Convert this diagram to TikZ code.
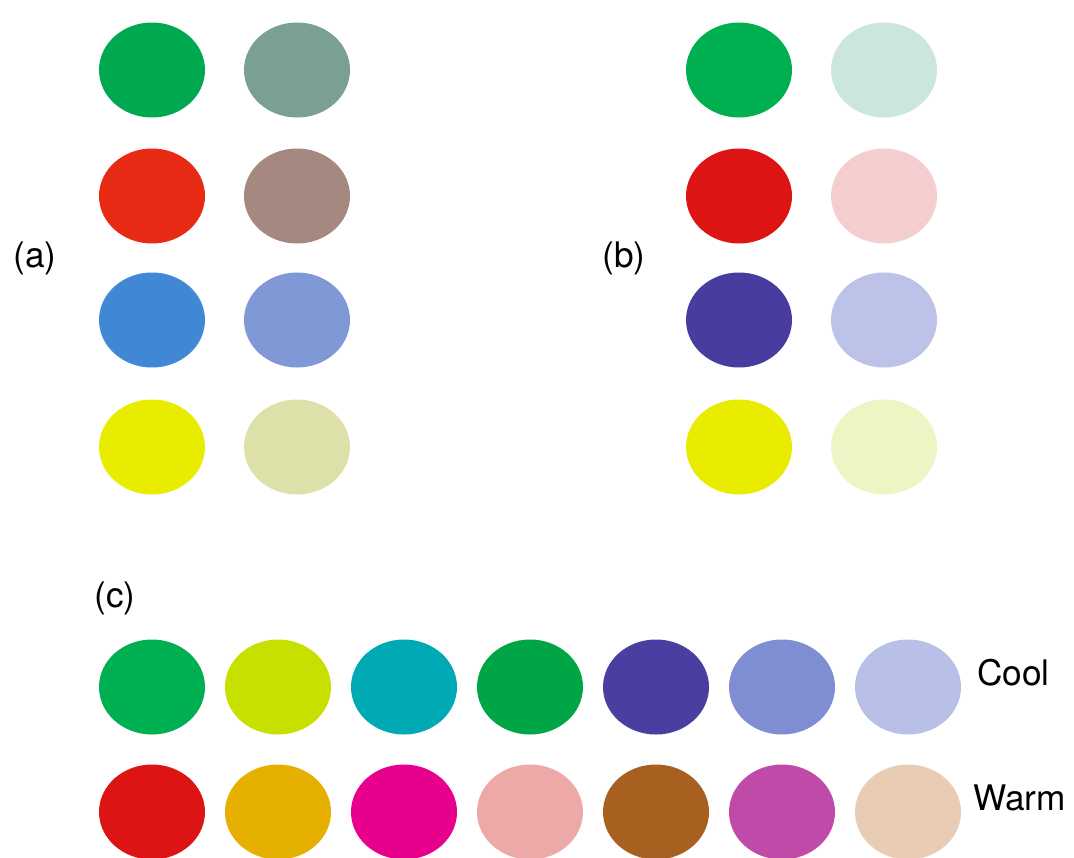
\documentclass[tikz,border=0pt]{standalone}
\usepackage{fontspec}
\setmainfont{TeX Gyre Heros}
\usetikzlibrary{shapes.geometric}

% (a) full and dulled
\definecolor{grnA}{HTML}{00A850}
\definecolor{redA}{HTML}{E62A14}
\definecolor{bluA}{HTML}{4088D6}
\definecolor{yelA}{HTML}{EAEC00}
\definecolor{grnAdull}{HTML}{7AA091}
\definecolor{redAdull}{HTML}{A58880}
\definecolor{bluAdull}{HTML}{8098D6}
\definecolor{yelAdull}{HTML}{DEE0AA}
% (b) full and tinted
\definecolor{grnB}{HTML}{00B050}
\definecolor{redB}{HTML}{DC1414}
\definecolor{bluB}{HTML}{483C9E}
\definecolor{yelB}{HTML}{EAEC00}
\definecolor{grnBtint}{HTML}{CBE6DA}
\definecolor{redBtint}{HTML}{F4CECE}
\definecolor{bluBtint}{HTML}{BCC2E8}
\definecolor{yelBtint}{HTML}{EEF5C4}
% (c) cool and warm
\definecolor{coolA}{HTML}{00B050}
\definecolor{coolB}{HTML}{C8E000}
\definecolor{coolC}{HTML}{00AAB4}
\definecolor{coolD}{HTML}{00A645}
\definecolor{coolE}{HTML}{4A3FA0}
\definecolor{coolF}{HTML}{7F8ED2}
\definecolor{coolG}{HTML}{B8C0E8}
\definecolor{warmA}{HTML}{DC1414}
\definecolor{warmB}{HTML}{E6B000}
\definecolor{warmC}{HTML}{E6008C}
\definecolor{warmD}{HTML}{EDA8A8}
\definecolor{warmE}{HTML}{A86020}
\definecolor{warmF}{HTML}{C04AA8}
\definecolor{warmG}{HTML}{E8CCB4}

\begin{document}
\begin{tikzpicture}[x=0.5pt,y=-0.5pt,font=\fontsize{17.6}{21}\selectfont,
  spot/.style={ellipse,minimum width=53pt,minimum height=47.5pt,inner sep=0pt},
  tag/.style={inner sep=0pt}]
  \useasboundingbox (0,0) rectangle (1074,857);

  % (a)
  \foreach \y/\r/\p/\q in {70/1/grnA/grnAdull,196/2/redA/redAdull,
      320/3/bluA/bluAdull,447/4/yelA/yelAdull}{
    \node[spot,fill=\p] (a\r-1) at (152,\y) {};
    \node[spot,fill=\q] (a\r-2) at (297,\y) {};
  }
  \node[tag] (la) at (35,258) {(a)};

  % (b)
  \foreach \y/\r/\p/\q in {70/1/grnB/grnBtint,196/2/redB/redBtint,
      320/3/bluB/bluBtint,447/4/yelB/yelBtint}{
    \node[spot,fill=\p] (b\r-1) at (739,\y) {};
    \node[spot,fill=\q] (b\r-2) at (884,\y) {};
  }
  \node[tag] (lb) at (624,258) {(b)};

  % (c)
  \node[tag] (lc) at (115,598) {(c)};
  \foreach \c [count=\i] in {coolA,coolB,coolC,coolD,coolE,coolF,coolG}
    \node[spot,fill=\c] (cool\i) at ({152+126*(\i-1)},687) {};
  \foreach \c [count=\i] in {warmA,warmB,warmC,warmD,warmE,warmF,warmG}
    \node[spot,fill=\c] (warm\i) at ({152+126*(\i-1)},812) {};
  \node[tag,anchor=west] (lcool) at (977,673) {Cool};
  \node[tag,anchor=west] (lwarm) at (973,798) {Warm};
\end{tikzpicture}
\end{document}
